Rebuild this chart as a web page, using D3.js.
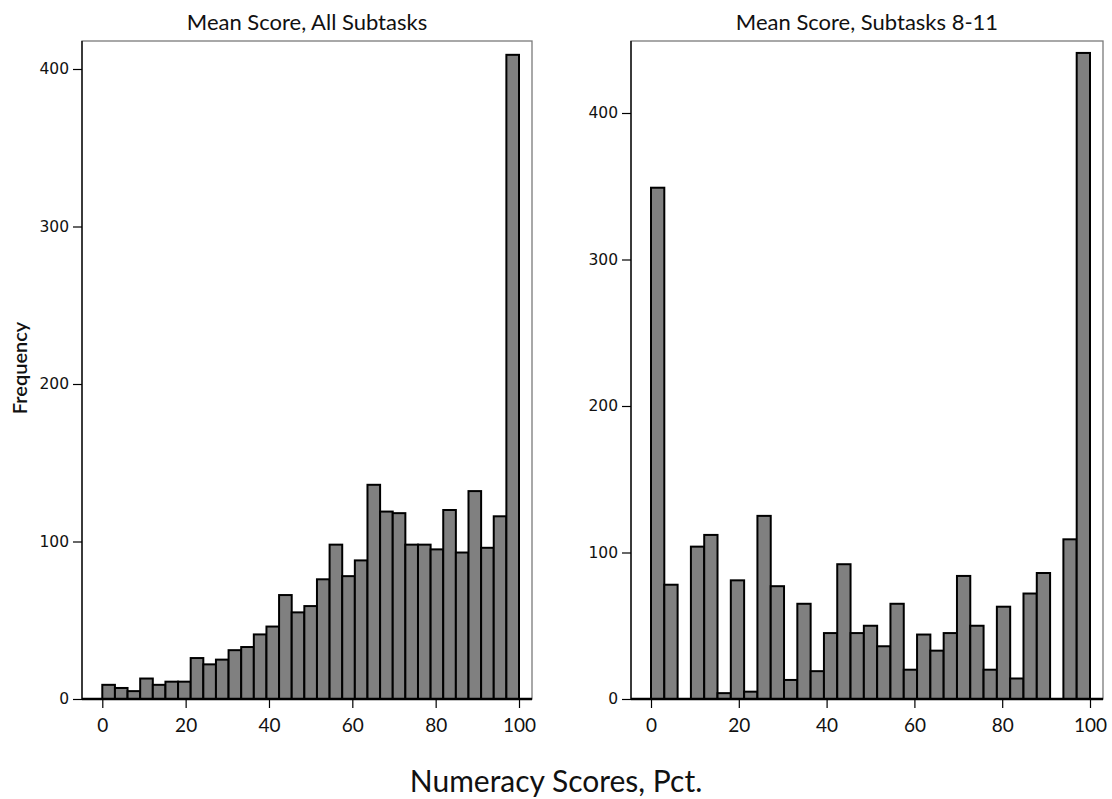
<!DOCTYPE html>
<html>
<head>
<meta charset="utf-8">
<script src="https://cdn.jsdelivr.net/npm/d3@7"></script>
<style>
  body { margin: 0; background: #fff; }
  svg { display: block; }
</style>
</head>
<body>
<svg id="chart" width="1112" height="799"></svg>
<script>
// 33 equal bins over 0-100
const leftTitle = "Mean Score, All Subtasks";
const rightTitle = "Mean Score, Subtasks 8-11";
const leftCounts = [9, 7, 5, 13, 9, 11, 11, 26, 22, 25, 31, 33, 41, 46, 66, 55, 59, 76, 98, 78,
  88, 136, 119, 118, 98, 98, 95, 120, 93, 132, 96, 116, 409];
const rightCounts = [349, 78, 0, 104, 112, 4, 81, 5, 125, 77, 13, 65, 19, 45, 92, 45, 50, 36, 65, 20,
  44, 33, 45, 84, 50, 20, 63, 14, 72, 86, 0, 109, 441];
const xTicks = [0, 20, 40, 60, 80, 100];
const yTicks = [0, 100, 200, 300, 400];

const textFont = "Lato, 'Open Sans', sans-serif";
const svg = d3.select("#chart");

function panel(cfg) {
  const { counts, title, frame, x0, x100, yMaxAtTop } = cfg;
  const nBins = counts.length;
  const step = 100 / nBins;

  const x = d3.scaleLinear().domain([0, 100]).range([x0, x100]);
  const y = d3.scaleLinear().domain([0, yMaxAtTop]).range([frame.bottom, frame.top]);

  const g = svg.append("g");

  // frame (top/right grey)
  g.append("rect")
    .attr("x", frame.left).attr("y", frame.top)
    .attr("width", frame.right - frame.left)
    .attr("height", frame.bottom - frame.top)
    .attr("fill", "none")
    .attr("stroke", "#7a7a7a")
    .attr("stroke-width", 1.3);

  g.append("text")
    .attr("x", (frame.left + frame.right) / 2)
    .attr("y", 30)
    .attr("text-anchor", "middle")
    .style("font-family", textFont)
    .style("font-size", "22px")
    .attr("fill", "#111")
    .text(title);

  g.selectAll("rect.bar")
    .data(counts)
    .enter()
    .append("rect")
    .attr("class", "bar")
    .attr("x", (d, i) => x(i * step))
    .attr("y", d => y(d))
    .attr("width", x(step) - x(0))
    .attr("height", d => y(0) - y(d))
    .attr("fill", "#808080")
    .attr("stroke", "#000")
    .attr("stroke-width", 2);

  // x axis
  const xAxis = g.append("g")
    .attr("transform", `translate(0,${frame.bottom})`)
    .call(d3.axisBottom(x).tickValues(xTicks).tickSize(9).tickPadding(11).tickFormat(d3.format("d")));
  xAxis.select(".domain").remove();
  xAxis.selectAll(".tick line").attr("stroke", "#000").attr("stroke-width", 1.2);
  xAxis.selectAll("text")
    .style("font-family", textFont)
    .style("font-size", "19px")
    .attr("fill", "#111");

  g.append("line")
    .attr("x1", frame.left).attr("x2", frame.right)
    .attr("y1", frame.bottom).attr("y2", frame.bottom)
    .attr("stroke", "#000").attr("stroke-width", 2.5);

  // y axis
  const yAxis = g.append("g")
    .attr("transform", `translate(${frame.left},0)`)
    .call(d3.axisLeft(y).tickValues(yTicks).tickSize(9).tickPadding(4));
  yAxis.select(".domain").remove();
  yAxis.selectAll(".tick line").attr("stroke", "#000").attr("stroke-width", 1.2);
  yAxis.selectAll("text")
    .style("font-family", "'DejaVu Sans', sans-serif")
    .style("font-size", "15.5px")
    .attr("fill", "#111");

  g.append("line")
    .attr("x1", frame.left).attr("x2", frame.left)
    .attr("y1", frame.top).attr("y2", frame.bottom)
    .attr("stroke", "#000").attr("stroke-width", 1.3);
}

panel({
  counts: leftCounts,
  title: leftTitle,
  frame: { left: 82, right: 532, top: 41, bottom: 699 },
  x0: 102.3, x100: 519,
  yMaxAtTop: (699 - 41) / 1.575
});

panel({
  counts: rightCounts,
  title: rightTitle,
  frame: { left: 631, right: 1103, top: 41, bottom: 699 },
  x0: 651, x100: 1090,
  yMaxAtTop: (699 - 41) / 1.465
});

svg.append("text")
  .attr("transform", "translate(27,368) rotate(-90)")
  .attr("text-anchor", "middle")
  .style("font-family", textFont)
  .style("font-size", "20px")
  .style("font-weight", "600")
  .attr("fill", "#111")
  .text("Frequency");

svg.append("text")
  .attr("x", 556)
  .attr("y", 792)
  .attr("text-anchor", "middle")
  .style("font-family", textFont)
  .style("font-size", "30px")
  .attr("fill", "#111")
  .text("Numeracy Scores, Pct.");
</script>
</body>
</html>
